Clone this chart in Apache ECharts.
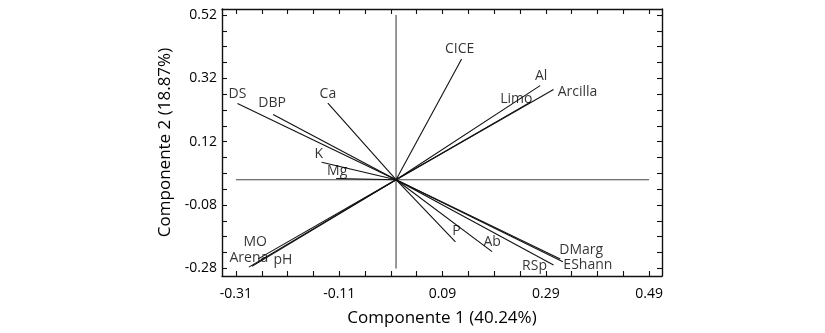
<!DOCTYPE html>
<html>
<head>
<meta charset="utf-8">
<script src="https://cdn.jsdelivr.net/npm/echarts@6/dist/echarts.min.js"></script>
<style>
html,body{margin:0;padding:0;background:#fff;}
#chart{width:825px;height:333px;}
</style>
</head>
<body>
<div id="chart"></div>
<script>
// Variable names and loadings on components 1 and 2
const names = ['DS','DBP','Ca','K','Mg','CICE','Al','Limo','Arcilla','MO','Arena','pH','P','Ab','RSp','DMarg','EShann'];
const comp1 = [-0.307,-0.238,-0.132,-0.144,-0.116,0.127,0.279,0.260,0.305,-0.267,-0.285,-0.279,0.115,0.186,0.305,0.318,0.323];
const comp2 = [0.241,0.206,0.242,0.055,0.004,0.381,0.297,0.245,0.285,-0.250,-0.276,-0.273,-0.196,-0.227,-0.269,-0.250,-0.259];
const xTickLabels = [-0.31,-0.11,0.09,0.29,0.49];
const yTickLabels = [-0.28,-0.08,0.12,0.32,0.52];

// label placement (pixel offsets from vector tip) – styling only
const labelOffsets = [[0,-9],[-1,-11],[0,-9],[-3,-8],[1,-7],[-2,-10],[1,-10],[-14,-3],[24,3],[-3,-17],[0,-9],[31,-6],[1,-11],[0,-10],[-19,1],[21,-9],[25,3]];

function minorTicks(start, end, step){
  const out=[]; for(let v=start; v<=end+1e-9; v+=step){ out.push(Math.round(v*100)/100); } return out;
}
const xTicks = minorTicks(-0.31, 0.49, 0.05);
const yTicks = minorTicks(-0.28, 0.52, 0.05);

const FONT = '"Open Sans", sans-serif';
const axisColor = '#111';
const textColor = '#000';
const fmt = v => v.toFixed(2);

function xAx(pos, showLabel){
  return {
    type:'value', position:pos, min:-0.337, max:0.515,
    axisLine:{show:true,onZero:false,lineStyle:{color:axisColor,width:1.4}},
    axisTick:{show:true,inside:true,length:5,customValues:xTicks,lineStyle:{color:axisColor,width:1.1}},
    axisLabel:{show:showLabel,customValues:xTickLabels,formatter:fmt,fontFamily:FONT,fontSize:14,color:textColor,margin:11},
    splitLine:{show:false},
    name: showLabel ? 'Componente 1 (40.24%)' : '',
    nameLocation:'middle', nameGap:34,
    nameTextStyle:{fontFamily:FONT,fontSize:17,color:textColor}
  };
}
function yAx(pos, showLabel){
  return {
    type:'value', position:pos, min:-0.304, max:0.539,
    axisLine:{show:true,onZero:false,lineStyle:{color:axisColor,width:1.4}},
    axisTick:{show:true,inside:true,length:5,customValues:yTicks,lineStyle:{color:axisColor,width:1.1}},
    axisLabel:{show:showLabel,customValues:yTickLabels,formatter:fmt,fontFamily:FONT,fontSize:14,color:textColor,margin:5},
    splitLine:{show:false},
    name: showLabel ? 'Componente 2 (18.87%)' : '',
    nameLocation:'middle', nameGap:48, nameRotate:90,
    nameTextStyle:{fontFamily:FONT,fontSize:17,color:textColor}
  };
}

const series = [];
// reference cross lines
series.push({type:'line',data:[[xTickLabels[0],0],[xTickLabels[xTickLabels.length-1],0]],symbol:'none',lineStyle:{color:'#444',width:1.1},silent:true,z:1});
series.push({type:'line',data:[[0,yTickLabels[0]],[0,yTickLabels[yTickLabels.length-1]]],symbol:'none',lineStyle:{color:'#444',width:1.1},silent:true,z:1});
// vectors
names.forEach((n,i)=>{
  series.push({type:'line',name:n,data:[[0,0],[comp1[i],comp2[i]]],symbol:'none',lineStyle:{color:'#111',width:1.1},silent:true,z:2});
});
// labels
series.push({
  type:'scatter', symbolSize:0, silent:true, z:3,
  data: names.map((n,i)=>({
    value:[comp1[i],comp2[i]], name:n,
    label:{show:true,position:'inside',offset:labelOffsets[i],formatter:n,fontFamily:FONT,fontSize:14,color:textColor}
  }))
});

const chart = echarts.init(document.getElementById('chart'),null,{renderer:'canvas'});
chart.setOption({
  animation:false,
  backgroundColor:'#fff',
  grid:{left:222,right:163,top:9,bottom:57,containLabel:false},
  xAxis:[xAx('bottom',true), xAx('top',false)],
  yAxis:[yAx('left',true), yAx('right',false)],
  series: series
});
</script>
</body>
</html>
